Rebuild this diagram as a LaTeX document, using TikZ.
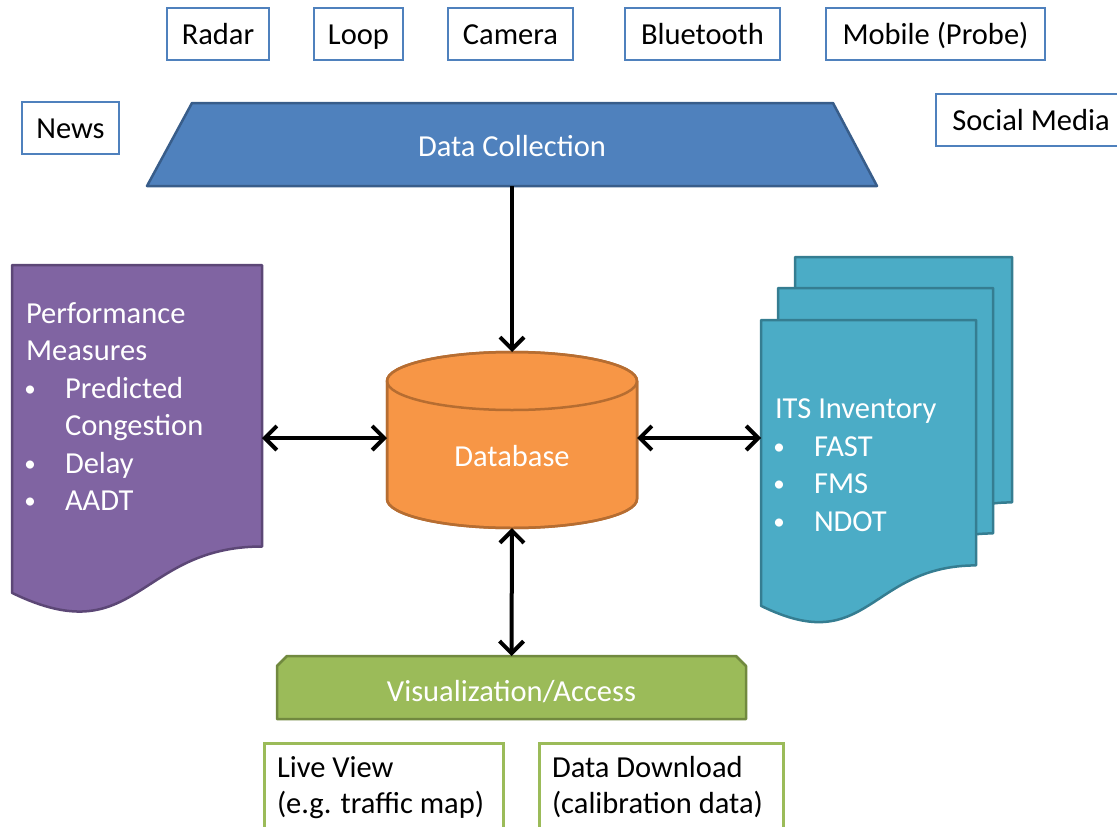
\documentclass[tikz,border=0pt]{standalone}
\usepackage{fontspec}
\setmainfont{Carlito}
\usetikzlibrary{arrows.meta,calc}
\definecolor{cblue}{HTML}{4F81BD}
\definecolor{cblueD}{HTML}{385D8A}
\definecolor{corange}{HTML}{F79646}
\definecolor{corangeD}{HTML}{B66D31}
\definecolor{cpurple}{HTML}{8064A2}
\definecolor{cpurpleD}{HTML}{5C4776}
\definecolor{cteal}{HTML}{4BACC6}
\definecolor{ctealD}{HTML}{357D91}
\definecolor{cgreen}{HTML}{9BBB59}
\definecolor{cgreenD}{HTML}{71893F}
\newcommand\mydoc[5]{%
  \draw[#1] (#2,#3) -- ({#2+#4},#3) -- ({#2+#4},{#3+0.802*#5})
    .. controls ({#2+0.5*#4},{#3+0.802*#5}) and ({#2+0.5*#4},{#3+1.1075*#5}) ..
    (#2,{#3+0.934*#5}) -- cycle;}
\begin{document}
\begin{tikzpicture}[x=1pt,y=-1pt,
  every node/.style={font=\fontsize{30.5}{37}\selectfont},
  srcbox/.style={draw=cblue, line width=2.5pt, fill=white, minimum height=52,
    inner xsep=0, text height=23, text depth=3},
  outbox/.style={draw=cgreen, line width=2.5pt, fill=white, inner sep=0, anchor=north west},
  body/.style={inner sep=0, outer sep=0},
  wtext/.style={text=white, inner sep=0, outer sep=0},
  ktext/.style={text=black, inner sep=0, outer sep=0},
  bul/.style={text=white, inner sep=0, outer sep=0, font=\fontsize{23}{23}\selectfont, anchor=base},
  blueshape/.style={fill=cblue, draw=cblueD, line width=2.5pt, line join=round},
  orangeshape/.style={fill=corange, draw=corangeD, line width=2.5pt},
  purpleshape/.style={fill=cpurple, draw=cpurpleD, line width=2.5pt, line join=round},
  tealshape/.style={fill=cteal, draw=ctealD, line width=2.5pt, line join=round},
  greenshape/.style={fill=cgreen, draw=cgreenD, line width=2.5pt, line join=round},
  barb/.tip={Straight Barb[length=12pt,width=24pt]},
  link/.style={line width=4pt, barb-barb},
  onelink/.style={line width=4pt, -barb},
]
\useasboundingbox (0,0) rectangle (1117,827);

% source boxes
\node[srcbox, minimum width=102] (radar) at (218,34) {Radar};
\node[srcbox, minimum width=89] (loop) at (358.5,34) {Loop};
\node[srcbox, minimum width=125] (camera) at (510.5,34) {Camera};
\node[srcbox, minimum width=155] (bt) at (702.5,34) {Bluetooth};
\node[srcbox, minimum width=219] (mobile) at (935.5,34) {Mobile (Probe)};
\node[srcbox, minimum width=97] (news) at (70.5,128) {News};
\node[srcbox, minimum width=190] (social) at (1031,120) {Social Media};

% data collection
\draw[blueshape] (147,186) -- (192,103) -- (833,103) -- (877,186) -- cycle;
\node[body, minimum width=730, minimum height=83] (dc) at (512,144.5) {};
\node[wtext, anchor=base] (dct) at (512,156) {Data Collection};

% database cylinder
\path[orangeshape] (387,381) -- (387,499)
  arc[start angle=180, end angle=360, x radius=125pt, y radius=29pt]
  -- (637,381)
  arc[start angle=0, end angle=180, x radius=125pt, y radius=29pt] -- cycle;
\draw[draw=corangeD, line width=2.5pt] (387,381) -- (387,499)
  arc[start angle=180, end angle=360, x radius=125pt, y radius=29pt] -- (637,381);
\draw[draw=corangeD, line width=2.5pt] (512,381) ellipse[x radius=125pt, y radius=29pt];
\node[body, minimum width=250, minimum height=176] (db) at (512,440) {};
\node[wtext, anchor=base] (dbt) at (512,466) {Database};

% performance measures document
\mydoc{purpleshape}{12}{265}{250}{351}
\node[body, minimum width=250, minimum height=328] (pm) at (137,429) {};
\node[wtext, anchor=base west] (pm1) at (26,323) {Performance};
\node[wtext, anchor=base west] (pm2) at (26,360) {Measures};
\node[bul] (pmb1) at (30,396) {•};
\node[wtext, anchor=base west] (pm3) at (65,398) {Predicted};
\node[wtext, anchor=base west] (pm4) at (65,435) {Congestion};
\node[bul] (pmb2) at (30,471) {•};
\node[wtext, anchor=base west] (pm5) at (65,473) {Delay};
\node[bul] (pmb3) at (30,508) {•};
\node[wtext, anchor=base west] (pm6) at (65,510) {AADT};

% ITS inventory documents
\mydoc{tealshape}{795}{257}{217}{306}
\mydoc{tealshape}{778}{288}{215}{306}
\mydoc{tealshape}{761}{320}{215}{306}
\node[body, minimum width=215, minimum height=287] (its) at (868.5,463.5) {};
\node[wtext, anchor=base west] (it1) at (775,418) {ITS Inventory};
\node[bul] (itb1) at (779,454) {•};
\node[wtext, anchor=base west] (it2) at (814,456) {FAST};
\node[bul] (itb2) at (779,491) {•};
\node[wtext, anchor=base west] (it3) at (814,493) {FMS};
\node[bul] (itb3) at (779,529) {•};
\node[wtext, anchor=base west] (it4) at (814,531) {NDOT};

% visualization
\draw[greenshape] (277,719) -- (277,666) -- (287,656) -- (736,656) -- (746,666) -- (746,719) -- cycle;
\node[body, minimum width=469, minimum height=63] (va) at (511.5,687.5) {};
\node[wtext, anchor=base] (vat) at (511.5,701) {Visualization/Access};

% output boxes
\node[outbox, minimum width=239, minimum height=110] (lv) at (263,742) {};
\node[ktext, anchor=base west] (lv1) at (277,777) {Live View};
\node[ktext, anchor=base west] (lv2) at (277,813) {(e.g. traffic map)};
\node[outbox, minimum width=244, minimum height=110] (dd) at (538,742) {};
\node[ktext, anchor=base west] (dd1) at (552,777) {Data Download};
\node[ktext, anchor=base west] (dd2) at (552,813) {(calibration data)};

% connectors
\draw[onelink] (dc.south) -- (db.north);
\draw[link] (pm.east |- 0,438) -- (db.west |- 0,438);
\draw[link] (db.east |- 0,438) -- (its.west |- 0,438);
\draw[link] (db.south) -- (va.north);
\end{tikzpicture}
\end{document}
